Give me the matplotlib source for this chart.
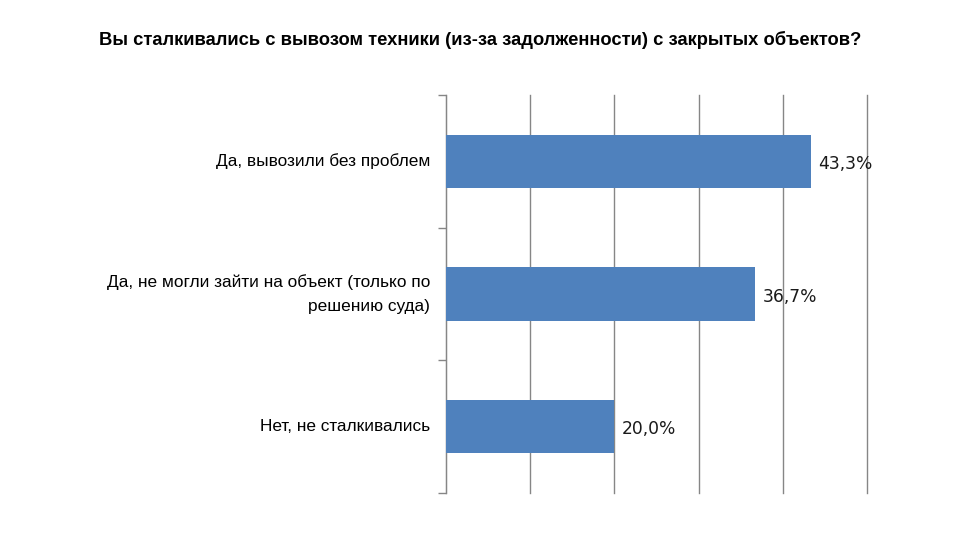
import matplotlib.pyplot as plt
import numpy as np

plt.rcParams['font.family'] = ['Liberation Sans', 'DejaVu Sans']

title = 'Вы сталкивались с вывозом техники (из-за задолженности) с закрытых объектов?'
categories = ['Да, вывозили без проблем',
              'Да, не могли зайти на объект (только по\nрешению суда)',
              'Нет, не сталкивались']
values = [43.3, 36.7, 20.0]

fig = plt.figure(figsize=(9.6, 5.4), dpi=100)
ax = fig.add_axes([446 / 960, 1 - 493 / 540, (867 - 446) / 960, (493 - 95) / 540])

y = np.arange(len(categories))
ax.barh(y, values, height=0.4, color='#4F81BD', zorder=3)
ax.set_ylim(len(categories) - 0.5, -0.5)
ax.set_xlim(0, 50)

# value labels
for yi, v in zip(y, values):
    ax.text(v + 0.9, yi + 0.02, f'{v:.1f}%'.replace('.', ','), va='center', ha='left',
            fontsize=12.3, color='#1a1a1a', family=['DejaVu Sans'])

# category labels, right-aligned next to axis
for yi, lab in zip(y, categories):
    ax.text(-1.9, yi, lab, va='center', ha='right', fontsize=12.4,
            color='black', linespacing=1.75)

ax.set_xticks(np.arange(0, 51, 10))
ax.set_xticklabels([])
ax.tick_params(axis='x', length=0)
ax.grid(axis='x', color='#868686', linewidth=1, zorder=0)
for gl in ax.get_xgridlines():
    gl.set_clip_on(False)

ax.set_yticks(np.arange(-0.5, len(categories), 1))
ax.set_yticklabels([])
ax.tick_params(axis='y', direction='out', length=6, color='#868686', width=1)

for side in ['top', 'right', 'bottom']:
    ax.spines[side].set_visible(False)
ax.spines['left'].set_color('#868686')

fig.text(0.5, 1 - 40 / 540, title, ha='center', va='center', fontsize=13.2,
         fontweight='bold')

fig.savefig('out.png', dpi=100)
